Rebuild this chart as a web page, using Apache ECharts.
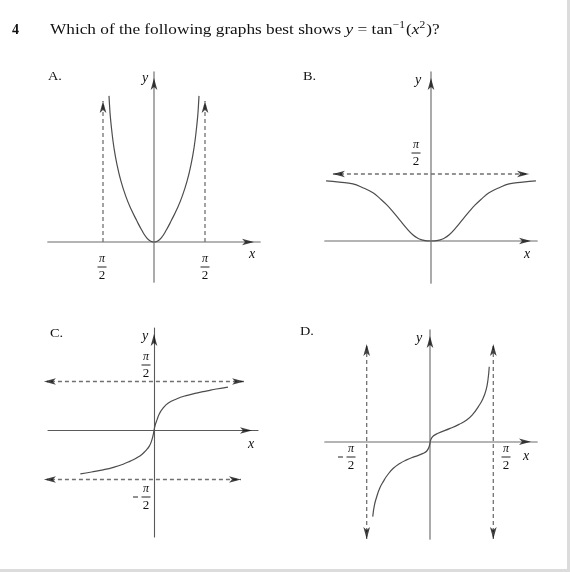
<!DOCTYPE html>
<html><head><meta charset="utf-8">
<script src="https://cdn.jsdelivr.net/npm/echarts@6/dist/echarts.min.js"></script>
<style>html,body{margin:0;padding:0;background:#fff}#c{width:570px;height:572px}</style>
</head><body><div id="c"></div><script>
// ---------------- data ----------------
const questionNumber = '4';
const questionParts = [
  ['Which of the following graphs best shows ', 'n'], ['y', 'i'], [' = tan', 'n'], ['\u22121', 's'],
  ['(', 'n'], ['x', 'i'], ['2', 's'], [')?', 'n']
];
const optionLetters = ['A.', 'B.', 'C.', 'D.'];
const HALF_PI = 1.5708;

// curves (x, y in graph units, pi/2 = asymptote)
const aX = [-1.386,-1.370,-1.345,-1.303,-1.240,-1.149,-1.020,-0.862,-0.700,-0.533,-0.380,-0.225,-0.100,0,0.100,0.225,0.380,0.533,0.700,0.862,1.020,1.149,1.240,1.303,1.345,1.370,1.386];
const aY = [4.50,4.22,3.86,3.45,2.95,2.43,1.88,1.39,1.00,0.66,0.37,0.13,0.025,0,0.025,0.13,0.37,0.66,1.00,1.39,1.88,2.43,2.95,3.45,3.86,4.22,4.50];
const bX = [-2.46,-2.15,-1.83,-1.60,-1.36,-1.20,-1.03,-0.88,-0.73,-0.58,-0.42,-0.30,-0.19,-0.09,0,0.09,0.19,0.30,0.42,0.58,0.73,0.88,1.03,1.20,1.36,1.60,1.83,2.15,2.46];
const bY = [1.41,1.38,1.34,1.25,1.13,1.00,0.84,0.67,0.49,0.31,0.14,0.06,0.02,0.003,0,0.003,0.02,0.06,0.14,0.31,0.49,0.67,0.84,1.00,1.13,1.25,1.34,1.38,1.41];
const cX = [-2.36,-2.00,-1.63,-1.30,-0.99,-0.76,-0.56,-0.38,-0.24,-0.15,-0.083,-0.03,0,0.035,0.096,0.18,0.29,0.46,0.72,1.00,1.36,1.70,2.0,2.37];
const cY = [-1.39,-1.33,-1.26,-1.18,-1.08,-0.98,-0.88,-0.76,-0.62,-0.50,-0.35,-0.16,0,0.16,0.34,0.55,0.72,0.88,1.01,1.11,1.20,1.27,1.33,1.39];
const dX = [-1.42,-1.38,-1.32,-1.25,-1.16,-1.05,-0.91,-0.75,-0.58,-0.38,-0.17,-0.08,-0.02,0.02,0.08,0.20,0.50,0.72,0.91,1.07,1.20,1.31,1.39,1.44,1.47];
const dY = [-1.86,-1.58,-1.36,-1.16,-0.99,-0.82,-0.66,-0.54,-0.45,-0.37,-0.29,-0.23,-0.12,0.05,0.14,0.21,0.33,0.43,0.54,0.69,0.87,1.06,1.28,1.55,1.86];

// axis extents per graph
const axesA = {x: [-3.265, 3.265], y: [-1.232, 5.236]};
const axesB = {x: [-2.485, 2.485], y: [-0.985, 3.963]};
const axesC = {x: [-3.397, 3.333], y: [-3.413, 3.285]};
const axesD = {x: [-2.605, 2.655], y: [-2.414, 2.772]};

// asymptotes: [from, to, arrowAtFrom, arrowAtTo]
const asymA = [[[-HALF_PI, 0], [-HALF_PI, 4.53], false, true], [[HALF_PI, 0], [HALF_PI, 4.53], false, true]];
const asymB = [[[-2.44, HALF_PI], [2.44, HALF_PI], true, true]];
const asymC = [[[-3.72, HALF_PI], [3.08, HALF_PI], true, true], [[-3.72, -HALF_PI], [2.98, -HALF_PI], true, true]];
const asymD = [[[-HALF_PI, -2.563], [-HALF_PI, 2.573], true, true], [[HALF_PI, -2.563], [HALF_PI, 2.573], true, true]];

// --------------- layout / style ---------------
const grids = [
  {left: 48, top: 72, width: 212, height: 210},
  {left: 325, top: 72, width: 212, height: 211},
  {left: 48, top: 328, width: 210, height: 209},
  {left: 325, top: 330, width: 212, height: 209}
];
const axesAll = [axesA, axesB, axesC, axesD];
const curves = [[aX, aY], [bX, bY], [cX, cY], [dX, dY]];
const asyms = [asymA, asymB, asymC, asymD];
const axisColors = ['#9c9c9c', '#9c9c9c', '#5a5a5a', '#9c9c9c'];
const axisWidths = [1.7, 1.7, 1.1, 1.7];
const ARROW_LEN = 12, ARROW_W = 5;

function pxPerUnit(i) {
  const g = grids[i], a = axesAll[i];
  return {x: g.width / (a.x[1] - a.x[0]), y: g.height / (a.y[1] - a.y[0])};
}
const ROT = {up: 0, down: 180, left: 90, right: -90};
function arrowItem(i, tip, dir) {
  const s = pxPerUnit(i);
  const off = ARROW_LEN / 2;
  let x = tip[0], y = tip[1];
  if (dir === 'up') y -= off / s.y;
  if (dir === 'down') y += off / s.y;
  if (dir === 'left') x += off / s.x;
  if (dir === 'right') x -= off / s.x;
  return {value: [x, y], symbolRotate: ROT[dir]};
}
function dirOf(from, to) {
  if (from[0] === to[0]) return to[1] > from[1] ? 'up' : 'down';
  return to[0] > from[0] ? 'right' : 'left';
}

const xAxes = [], yAxes = [], series = [];
grids.forEach((g, i) => {
  const a = axesAll[i];
  const common = {
    type: 'value', gridIndex: i, axisTick: {show: false}, axisLabel: {show: false},
    splitLine: {show: false},
    axisLine: {onZero: true, lineStyle: {color: axisColors[i], width: axisWidths[i]}}
  };
  xAxes.push(Object.assign({min: a.x[0], max: a.x[1]}, common));
  yAxes.push(Object.assign({min: a.y[0], max: a.y[1]}, common));
  const [cx, cy] = curves[i];
  series.push({
    type: 'line', xAxisIndex: i, yAxisIndex: i, showSymbol: false, smooth: true,
    clip: false, lineStyle: {color: '#4d4d4d', width: 1.2}, z: 3,
    data: cx.map((x, k) => [x, cy[k]])
  });
  const arrows = [];
  arrows.push(arrowItem(i, [a.x[1], 0], 'right'));
  arrows.push(arrowItem(i, [0, a.y[1]], 'up'));
  asyms[i].forEach(([from, to, af, at]) => {
    const dTo = dirOf(from, to), dFrom = dirOf(to, from);
    const p1 = af ? arrowItem(i, from, dFrom).value : from;
    const p2 = at ? arrowItem(i, to, dTo).value : to;
    series.push({
      type: 'line', xAxisIndex: i, yAxisIndex: i, showSymbol: false, clip: false, z: 2,
      lineStyle: {color: '#707070', width: 1.3, type: [4, 3]}, data: [p1, p2]
    });
    if (af) arrows.push(arrowItem(i, from, dFrom));
    if (at) arrows.push(arrowItem(i, to, dTo));
  });
  series.push({
    type: 'scatter', xAxisIndex: i, yAxisIndex: i, clip: false, symbol: 'arrow', z: 4,
    symbolSize: [ARROW_W, ARROW_LEN], itemStyle: {color: '#111'}, silent: true, data: arrows
  });
});

// --------------- text ---------------
const SERIF = '"Liberation Serif","DejaVu Serif",serif';
const graphic = [];
function txt(x, y, s, font, align, sx) {
  graphic.push({type: 'text', x: x, y: y, silent: true, scaleX: sx || 1,
    style: {text: s, font: font, fill: '#111', align: align || 'center', verticalAlign: 'middle',
            textAlign: align || 'center', textVerticalAlign: 'middle'}});
}
function frac(cx, bar, neg) {
  txt(cx, bar - 8, '\u03c0', 'italic 12px ' + SERIF);
  graphic.push({type: 'line', silent: true, shape: {x1: cx - 4.5, y1: bar, x2: cx + 4.5, y2: bar},
    style: {stroke: '#222', lineWidth: 1}});
  txt(cx, bar + 9, '2', '13px ' + SERIF);
  if (neg) graphic.push({type: 'line', silent: true, shape: {x1: cx - 13, y1: bar, x2: cx - 8, y2: bar},
    style: {stroke: '#222', lineWidth: 1}});
}
// title
txt(12, 30, questionNumber, 'bold 14px ' + SERIF, 'left');
(function () {
  const ctx = document.createElement('canvas').getContext('2d');
  const SX = 1.15;
  let x = 50;
  questionParts.forEach(([s, k]) => {
    const font = k === 'i' ? 'italic 15px ' + SERIF : k === 's' ? '10px ' + SERIF : '15px ' + SERIF;
    const y = k === 's' ? 25 : 30;
    ctx.font = font;
    txt(x, y, s, font, 'left', SX);
    x += (ctx.measureText(s).width + (k === 's' ? 1 : 0)) * SX;
  });
})();
// option letters
txt(48, 77, optionLetters[0], '13px ' + SERIF, 'left', 1.1);
txt(303, 77, optionLetters[1], '13px ' + SERIF, 'left', 1.1);
txt(50, 334, optionLetters[2], '13px ' + SERIF, 'left', 1.1);
txt(300, 332, optionLetters[3], '13px ' + SERIF, 'left', 1.1);
// axis names
[[145, 78], [418, 80], [145, 336], [419, 338]].forEach(p => txt(p[0], p[1], 'y', 'italic 14px ' + SERIF));
[[252, 254], [527, 254], [251, 444], [526, 456]].forEach(p => txt(p[0], p[1], 'x', 'italic 14px ' + SERIF));
// fraction labels
frac(102, 267, false); frac(205, 267, false);
frac(416, 153, false);
frac(146, 365, false); frac(146, 497, true);
frac(351, 457, true); frac(506, 457, false);
// frame
graphic.push({type: 'rect', silent: true, shape: {x: 567, y: 0, width: 3, height: 572}, style: {fill: '#dcdcdc'}});
graphic.push({type: 'rect', silent: true, shape: {x: 0, y: 569, width: 570, height: 3}, style: {fill: '#dcdcdc'}});

const chart = echarts.init(document.getElementById('c'), null, {renderer: 'canvas'});
chart.setOption({
  animation: false, backgroundColor: '#fff',
  grid: grids, xAxis: xAxes, yAxis: yAxes, series: series, graphic: graphic
});
</script></body></html>
